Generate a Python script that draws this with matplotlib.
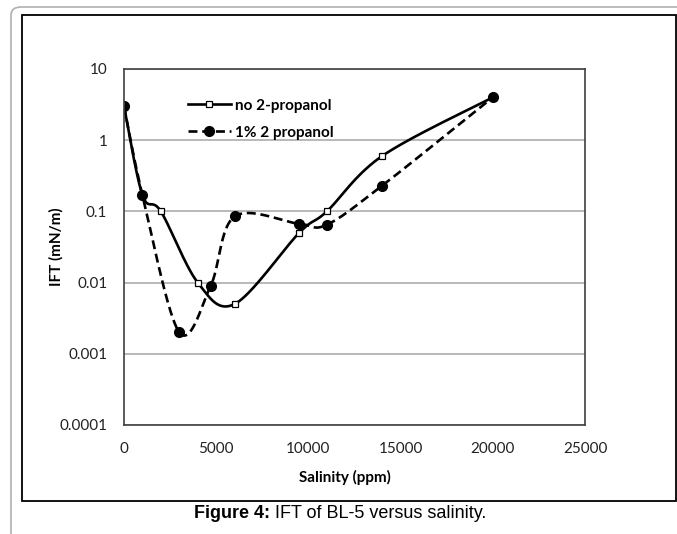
import numpy as np
import matplotlib.pyplot as plt
from matplotlib.lines import Line2D
from matplotlib.patches import Rectangle, FancyBboxPatch

# data
salinity_a = [0, 1000, 2000, 4000, 6000, 9500, 11000, 14000, 20000]
ift_a = [3.0, 0.17, 0.1, 0.01, 0.005, 0.05, 0.1, 0.6, 4.0]
salinity_b = [0, 1000, 3000, 4700, 6000, 9500, 11000, 14000, 20000]
ift_b = [3.0, 0.17, 0.002, 0.009, 0.085, 0.067, 0.065, 0.23, 4.0]
labels = ['no 2-propanol', '1% 2 propanol']
x_ticks = [0, 5000, 10000, 15000, 20000, 25000]
y_ticks = [0.0001, 0.001, 0.01, 0.1, 1, 10]
y_ticklabels = ['0.0001', '0.001', '0.01', '0.1', '1', '10']

W, H = 677, 534


def px(x, y):
    # pixel (from top-left) -> figure fraction
    return x / W, 1 - y / H


def excel_smooth(xs, ys, n=40):
    # bezier smoothing like excel's "smoothed line", done in (x, log y) space
    p = np.column_stack([np.array(xs, float) / 25000.0, np.log10(ys) / 5.0])
    pts = np.vstack([p[0], p, p[-1]])
    out = []
    t = np.linspace(0, 1, n)[:, None]
    for i in range(1, len(pts) - 2):
        p0, p3 = pts[i], pts[i + 1]
        c1 = p0 + (pts[i + 1] - pts[i - 1]) / 6.0
        c2 = p3 - (pts[i + 2] - pts[i]) / 6.0
        seg = (1 - t) ** 3 * p0 + 3 * (1 - t) ** 2 * t * c1 + 3 * (1 - t) * t ** 2 * c2 + t ** 3 * p3
        out.append(seg if i == 1 else seg[1:])
    out = np.vstack(out)
    return out[:, 0] * 25000.0, 10 ** (out[:, 1] * 5.0)


fig = plt.figure(figsize=(W / 100, H / 100), dpi=100)

# outer decorations: gray rounded border and black chart frame
l, t = px(11, 7)
fig.patches.append(FancyBboxPatch((l, -0.1), 1.2, t + 0.1, boxstyle='round,pad=0,rounding_size=0.015',
                                  transform=fig.transFigure, fill=False, edgecolor='#b0b0b0', lw=1.2))
l, t = px(22, 15)
r, b = px(676, 501)
fig.patches.append(Rectangle((l, b), r - l, t - b, transform=fig.transFigure,
                             fill=False, edgecolor='black', lw=1.3))

x0, y0 = px(124, 425)
x1, y1 = px(585, 69)
ax = fig.add_axes([x0, y0, x1 - x0, y1 - y0])

ax.set_yscale('log')
ax.set_xlim(0, 25000)
ax.set_ylim(0.0001, 10)
ax.set_xticks(x_ticks)
ax.set_xticklabels([str(v) for v in x_ticks])
ax.set_yticks(y_ticks)
ax.set_yticklabels(y_ticklabels)
ax.minorticks_off()
ax.tick_params(length=0, labelsize=11, colors='#222222')
ax.tick_params(axis='y', pad=12)
ax.tick_params(axis='x', pad=12)
for lab in ax.get_xticklabels() + ax.get_yticklabels():
    lab.set_fontfamily('Lato')
ax.grid(axis='y', color='#a6a6a6', lw=1.1)
ax.set_axisbelow(True)
for s in ax.spines.values():
    s.set_color('#404040')
    s.set_linewidth(1.2)

xs, ys = excel_smooth(salinity_a, ift_a)
ax.plot(xs, ys, color='black', lw=1.9, solid_capstyle='round')
ax.plot(salinity_a[1:-1], ift_a[1:-1], ls='none', marker='s', ms=5, mfc='white', mec='black', mew=0.9)

xs, ys = excel_smooth(salinity_b, ift_b)
ax.plot(xs, ys, color='black', lw=1.9, ls=(0, (3.4, 1.8)))
ax.plot(salinity_b, ift_b, ls='none', marker='o', ms=7, color='black')

handles = [
    Line2D([], [], color='black', lw=1.9, marker='s', ms=5, mfc='white', mec='black', mew=0.9),
    Line2D([], [], color='black', lw=1.9, ls=(0, (3.4, 1.8)), marker='o', ms=7),
]
lx, ly = px(174, 85)
ax.legend(handles, labels, loc='upper left', bbox_to_anchor=(lx, ly), bbox_transform=fig.transFigure,
          frameon=False, handlelength=2.8, handletextpad=0.3, labelspacing=0.85,
          prop={'family': 'Lato', 'weight': 'bold', 'size': 11})

ax.set_xlabel('Salinity (ppm)', fontfamily='Lato', fontweight='bold', fontsize=11)
ax.xaxis.set_label_coords(0.48, -0.126)
ax.set_ylabel('IFT (mN/m)', fontfamily='Lato', fontweight='bold', fontsize=11)
ax.yaxis.set_label_coords((64 - 124) / 461, 0.5)

# caption: bold lead-in + regular text, centred as a whole
cx, cy = px(340, 514)
t1 = fig.text(cx, cy, 'Figure 4:', ha='left', va='center', fontfamily='Liberation Sans',
              fontweight='bold', fontsize=13)
t2 = fig.text(cx, cy, ' IFT of BL-5 versus salinity.', ha='left', va='center',
              fontfamily='Liberation Sans', fontsize=13)
fig.canvas.draw()
r = fig.canvas.get_renderer()
w1 = t1.get_window_extent(r).width / W
w2 = t2.get_window_extent(r).width / W
start = cx - (w1 + w2) / 2
t1.set_x(start)
t2.set_x(start + w1)

fig.savefig('out.png', dpi=100)
